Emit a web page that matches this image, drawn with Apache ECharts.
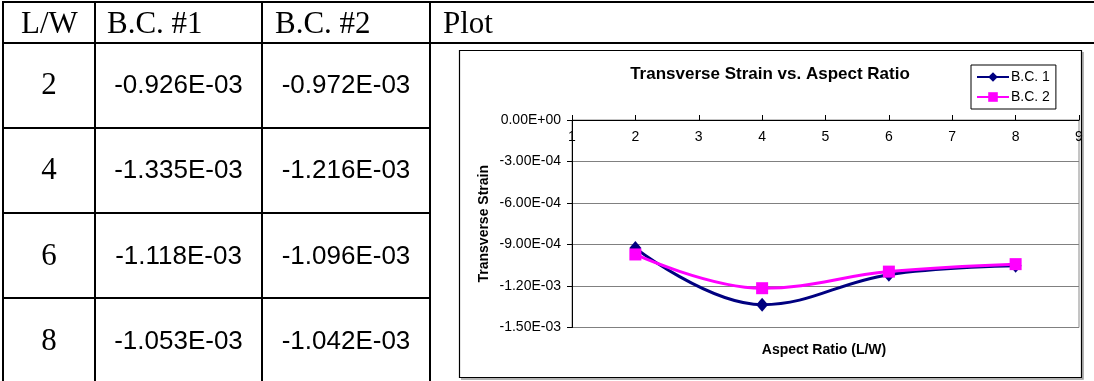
<!DOCTYPE html>
<html>
<head>
<meta charset="utf-8">
<script src="https://cdn.jsdelivr.net/npm/echarts@6/dist/echarts.min.js"></script>
<style>
html,body{margin:0;padding:0;background:#fff;}
#c{width:1094px;height:381px;}
</style>
</head>
<body>
<div id="c"></div>
<script>
// ---- data ----
const tableHeaders = ['L/W', 'B.C. #1', 'B.C. #2', 'Plot'];
const aspectRatios = [2, 4, 6, 8];
const bc1 = [-0.926e-3, -1.335e-3, -1.118e-3, -1.053e-3];
const bc2 = [-0.972e-3, -1.216e-3, -1.096e-3, -1.042e-3];
const seriesNames = ['B.C. 1', 'B.C. 2'];
const chartTitle = 'Transverse Strain vs. Aspect Ratio';
const xTitle = 'Aspect Ratio (L/W)';
const yTitle = 'Transverse Strain';

// ---- helpers ----
function fmtTable(v) { return (v * 1000).toFixed(3) + 'E-03'; }
function fmtSci(v) {
  if (Math.abs(v) < 1e-12) return '0.00E+00';
  const s = v.toExponential(2);
  const parts = s.split('e');
  let exp = parseInt(parts[1], 10);
  const sign = exp < 0 ? '-' : '+';
  exp = Math.abs(exp);
  return parts[0] + 'E' + sign + (exp < 10 ? '0' + exp : exp);
}

const SERIF = '"Liberation Serif", "Times New Roman", serif';
const SANS = '"Liberation Sans", Arial, sans-serif';

// ---- table graphics ----
const g = [];
const colX = [3, 95, 262, 430];
function line(x1, y1, x2, y2, w, c) {
  g.push({ type: 'line', shape: { x1, y1, x2, y2 }, style: { stroke: c || '#000', lineWidth: w || 2 }, silent: true });
}
line(2, 2, 1094, 2);
line(2, 43, 1094, 43);
[128, 213, 298].forEach(y => line(2, y, 430, y));
colX.forEach(x => line(x, 1, x, 381));

const headerX = [21, 107, 275, 443];
tableHeaders.forEach((h, i) => {
  g.push({ type: 'text', x: headerX[i], y: 25, silent: true,
    style: { text: h, font: '31px ' + SERIF, fill: '#000', textAlign: 'left', textVerticalAlign: 'middle' } });
});
const rowCenters = [85.5, 171, 256.5, 342];
const colCenters = [49, 178.5, 346];
aspectRatios.forEach((r, i) => {
  g.push({ type: 'text', x: colCenters[0], y: rowCenters[i], silent: true,
    style: { text: String(r), font: '31px ' + SERIF, fill: '#000', textAlign: 'center', textVerticalAlign: 'middle' } });
  g.push({ type: 'text', x: colCenters[1], y: rowCenters[i], silent: true,
    style: { text: fmtTable(bc1[i]), font: '26px ' + SANS, fill: '#000', textAlign: 'center', textVerticalAlign: 'middle' } });
  g.push({ type: 'text', x: colCenters[2], y: rowCenters[i], silent: true,
    style: { text: fmtTable(bc2[i]), font: '26px ' + SANS, fill: '#000', textAlign: 'center', textVerticalAlign: 'middle' } });
});

// chart frame (with faint shadow)
g.push({ type: 'polyline', shape: { points: [[1083, 52], [1083, 379], [461, 379]] }, style: { stroke: '#9a9a9a', lineWidth: 1.5, fill: null }, silent: true });
g.push({ type: 'rect', shape: { x: 459.5, y: 50.5, width: 622, height: 327 }, style: { stroke: '#000', lineWidth: 1.2, fill: null }, silent: true });

// chart titles
g.push({ type: 'text', x: 770, y: 74, silent: true,
  style: { text: chartTitle, font: 'bold 17px ' + SANS, fill: '#000', textAlign: 'center', textVerticalAlign: 'middle' } });
g.push({ type: 'text', x: 824, y: 350, silent: true,
  style: { text: xTitle, font: 'bold 14px ' + SANS, fill: '#000', textAlign: 'center', textVerticalAlign: 'middle' } });

const chart = echarts.init(document.getElementById('c'), null, { renderer: 'canvas' });
chart.setOption({
  animation: false,
  backgroundColor: '#fff',
  graphic: g,
  legend: {
    orient: 'vertical',
    left: 971, top: 65,
    itemWidth: 32, itemHeight: 12, itemGap: 6,
    padding: [5, 6, 5, 5],
    borderColor: '#000', borderWidth: 1,
    textStyle: { fontFamily: SANS, fontSize: 14, color: '#000', padding: [0, 0, 0, -3] },
    data: seriesNames
  },
  grid: {
    left: 572, top: 120, width: 507, height: 207.5,
    show: true, borderColor: '#8a8a8a', borderWidth: 1, backgroundColor: 'transparent'
  },
  xAxis: {
    type: 'value', min: 1, max: 9, interval: 1, position: 'top',
    axisLine: { show: true, onZero: false, lineStyle: { color: '#000', width: 1 } },
    axisTick: { show: true, inside: false, length: 5, lineStyle: { color: '#000' } },
    axisLabel: { inside: true, margin: 10, fontFamily: SANS, fontSize: 14, color: '#000' },
    splitLine: { show: false }
  },
  yAxis: {
    type: 'value', min: -0.0015, max: 0, interval: 0.0003,
    name: yTitle, nameLocation: 'middle', nameGap: 81, nameRotate: 90,
    nameTextStyle: { fontFamily: SANS, fontSize: 14, fontWeight: 'bold', color: '#000' },
    axisLine: { show: true, onZero: false, lineStyle: { color: '#000', width: 1 } },
    axisTick: { show: true, inside: false, length: 5, lineStyle: { color: '#000' } },
    axisLabel: { margin: 11, fontFamily: SANS, fontSize: 14, color: '#000', formatter: fmtSci },
    splitLine: { show: true, lineStyle: { color: '#808080', width: 1 } }
  },
  series: [
    {
      name: seriesNames[0], type: 'line', smooth: 0.4,
      data: aspectRatios.map((x, i) => [x, bc1[i]]),
      symbol: 'diamond', symbolSize: [12, 14],
      lineStyle: { color: '#000080', width: 3 },
      itemStyle: { color: '#000080' }
    },
    {
      name: seriesNames[1], type: 'line', smooth: 0.4,
      data: aspectRatios.map((x, i) => [x, bc2[i]]),
      symbol: 'rect', symbolSize: 12,
      lineStyle: { color: '#FF00FF', width: 3 },
      itemStyle: { color: '#FF00FF' }
    }
  ]
});
</script>
</body>
</html>
